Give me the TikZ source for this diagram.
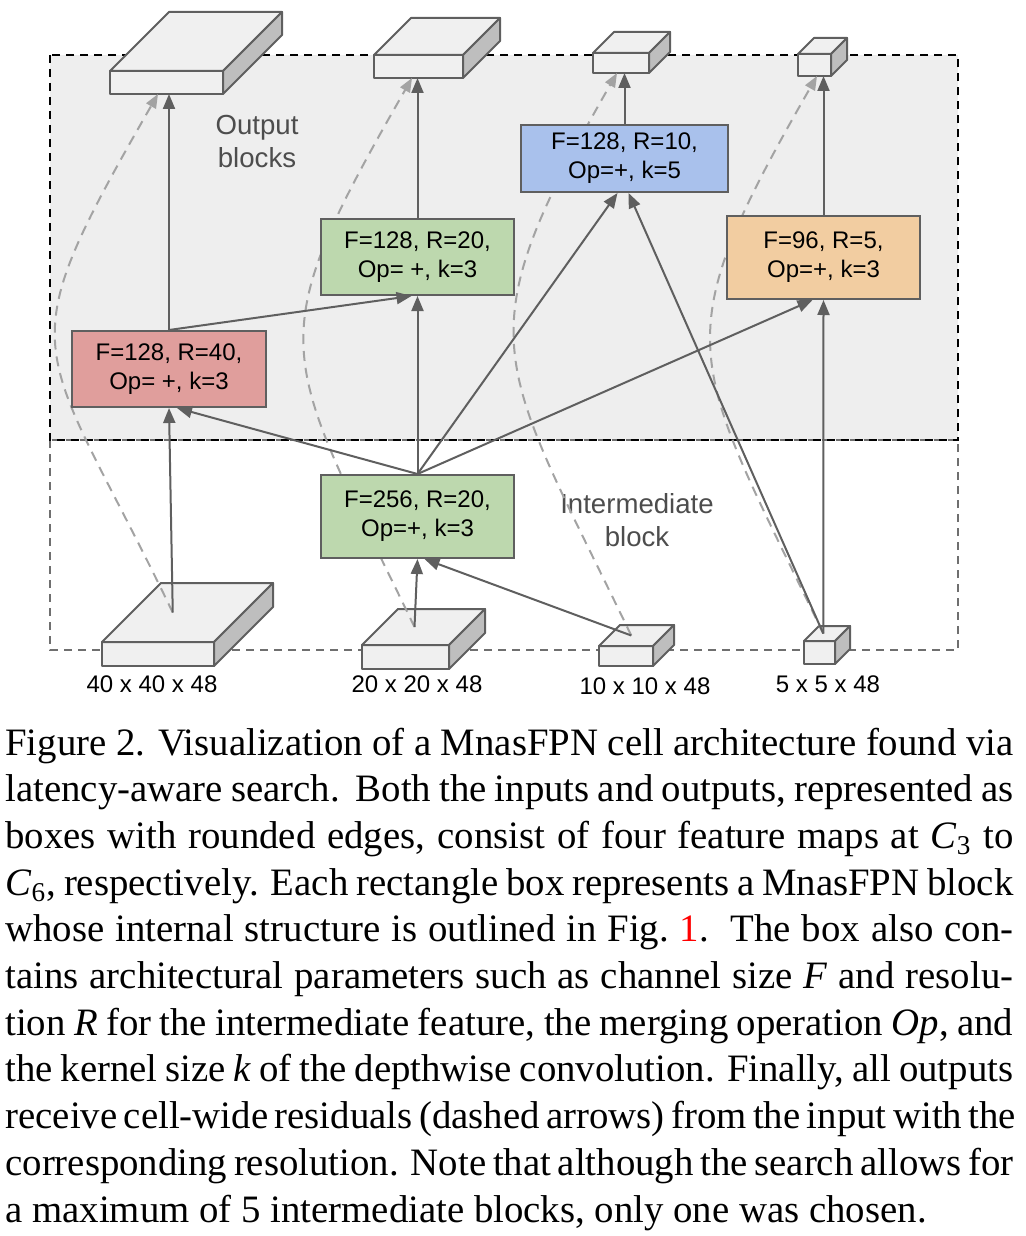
\documentclass[tikz,border=0pt]{standalone}
\usepackage{fontspec}
\setmainfont{Liberation Serif}
\newfontfamily\diagfont{Liberation Sans}
\usetikzlibrary{arrows.meta}

\definecolor{edgegray}{HTML}{5F5F5F}
\definecolor{resgray}{HTML}{A3A3A3}
\definecolor{regionfill}{HTML}{EEEEEE}
\definecolor{lblgray}{HTML}{4D4D4D}
\definecolor{redblk}{HTML}{E09E9C}
\definecolor{greenblk}{HTML}{BDD8AE}
\definecolor{blueblk}{HTML}{A9C1EC}
\definecolor{orangeblk}{HTML}{F2CDA1}
\definecolor{facefill}{HTML}{F0F0F0}
\definecolor{sidefill}{HTML}{BEBEBE}

\tikzset{
  blk/.style={draw=edgegray,line width=1pt,inner sep=0pt,align=center,
    font=\diagfont\fontsize{12}{14.5}\selectfont},
  conn/.style={draw=edgegray,line width=1pt,-{Triangle[length=7.5pt,width=6pt]}},
  resid/.style={draw=resgray,line width=1pt,dash pattern=on 5pt off 3.5pt,
    -{Triangle[length=7pt,width=5.5pt]}},
  mapface/.style={draw=edgegray,line width=1pt,fill=facefill,line join=round},
  mapside/.style={draw=edgegray,line width=1pt,fill=sidefill,line join=round},
  maplabel/.style={inner sep=0pt,font=\diagfont\fontsize{12}{14}\selectfont},
  regionlabel/.style={inner sep=0pt,align=center,text=lblgray,
    font=\diagfont\fontsize{13.8}{16.5}\selectfont}
}

% name, x, y (front top left), width, height, depth
\newcommand{\fmap}[6]{
  \filldraw[mapface](#2,#3)rectangle++(#4,#5);
  \filldraw[mapface](#2,#3)--++(#6,-#6)--++(#4,0)--++(-#6,#6)--cycle;
  \filldraw[mapside](#2+#4,#3)--++(#6,-#6)--++(0,#5)--++(-#6,#6)--cycle;
  \coordinate(#1)at(#2+#4/2,#3+#5);
  \coordinate(#1t)at(#2+#4/2+#6/4,#3-#6/2);
}
\newcommand{\capline}[1]{\makebox[504pt][s]{#1}\par}

\begin{document}
\begin{tikzpicture}[x=0.5pt,y=-0.5pt]
  \useasboundingbox(0,0)rectangle(1026,1236);

  \fill[regionfill](50,55)rectangle(958,440);
  \draw[edgegray!90,line width=1pt,dash pattern=on 4pt off 3pt](50,440)rectangle(958,650);
  \draw[black,line width=1.3pt,dash pattern=on 4pt off 3pt](50,55)rectangle(958,440);

  \fmap{out1}{110}{71}{113}{23}{59}
  \fmap{out2}{374}{55}{89}{23}{37}
  \fmap{out3}{593}{53}{56}{20}{21}
  \fmap{out4}{798}{54}{33}{22}{16}
  \fmap{in1}{102}{642}{112}{24}{59}
  \fmap{in2}{362}{645}{87}{24}{36}
  \fmap{in3}{599}{646}{54}{20}{21}
  \fmap{in4}{804}{641}{31}{23}{15}

  \node[maplabel](lbl1)at(152,684){40 x 40 x 48};
  \node[maplabel](lbl2)at(417,684){20 x 20 x 48};
  \node[maplabel](lbl3)at(645,686){10 x 10 x 48};
  \node[maplabel](lbl4)at(828,684){5 x 5 x 48};

  \node[regionlabel](outlbl)at(257,141){Output\\blocks};
  \node[regionlabel](midlbl)at(637,520){Intermediate\\block};

  \draw[resid](in1t)..controls+(-135,-280)and+(-155,270)..([xshift=-4.25pt]out1);
  \draw[resid](in2t)..controls+(-135,-280)and+(-155,270)..([xshift=-3.25pt]out2);
  \draw[resid](in3t)..controls+(-135,-280)and+(-155,270)..([xshift=-2pt]out3);
  \draw[resid](in4t)..controls+(-135,-280)and+(-155,270)..([xshift=1.25pt]out4);

  \node[blk,fill=redblk,minimum width=97pt,minimum height=38pt](red)at(169,369)
    {F=128, R=40,\\Op= +, k=3};
  \node[blk,fill=greenblk,minimum width=96.5pt,minimum height=38pt](g1)at(417.5,257)
    {F=128, R=20,\\Op= +, k=3};
  \node[blk,fill=blueblk,minimum width=103.5pt,minimum height=33.5pt](blue)at(624.5,158.5)
    {F=128, R=10,\\Op=+, k=5};
  \node[blk,fill=orangeblk,minimum width=96.5pt,minimum height=41.5pt](orange)at(823.5,257.5)
    {F=96, R=5,\\Op=+, k=3};
  \node[blk,fill=greenblk,minimum width=96.5pt,minimum height=41.5pt](g2)at(417.5,516.5)
    {F=256, R=20,\\Op=+, k=3};

  \draw[conn](in1t)--(red.south);
  \draw[conn](in2t)--(g2.south);
  \draw[conn](in3t)--([xshift=3.5pt]g2.south);
  \draw[conn](in4t)--(orange.south);
  \draw[conn](in4t)--([xshift=2pt]blue.south);
  \draw[conn](g2.north)--([xshift=4pt]red.south);
  \draw[conn](g2.north)--(g1.south);
  \draw[conn](g2.north)--([xshift=-3.5pt]blue.south);
  \draw[conn](g2.north)--([xshift=-5.5pt]orange.south);
  \draw[conn](red.north)--([xshift=-3pt]g1.south);
  \draw[conn](red.north)--(red.north|-out1);
  \draw[conn](g1.north)--(g1.north|-out2);
  \draw[conn](blue.north)--(blue.north|-out3);
  \draw[conn](orange.north)--(orange.north|-out4);

  \node[anchor=base west,inner sep=0pt](caption)at(5,755){\parbox[t]{504pt}{%
    \fontsize{19.4}{23.35}\selectfont
    \capline{Figure 2. Visualization of a MnasFPN cell architecture found via}
    \capline{latency-aware search.\ \ Both the inputs and outputs, represented as}
    \capline{boxes with rounded edges, consist of four feature maps at \textit{C}\textsubscript{3} to}
    \capline{\textit{C}\textsubscript{6}, respectively. Each rectangle box represents a MnasFPN block}
    \capline{whose internal structure is outlined in Fig.~\textcolor{red}{1}.\ \ The box also con-}
    \capline{tains architectural parameters such as channel size \textit{F} and resolu-}
    \capline{tion \textit{R} for the intermediate feature, the merging operation \textit{Op}, and}
    \capline{the kernel size \textit{k} of the depthwise convolution. Finally, all outputs}
    \capline{receive cell-wide residuals (dashed arrows) from the input with the}
    \capline{corresponding resolution. Note that although the search allows for}
    a maximum of 5 intermediate blocks, only one was chosen.}};
\end{tikzpicture}
\end{document}
